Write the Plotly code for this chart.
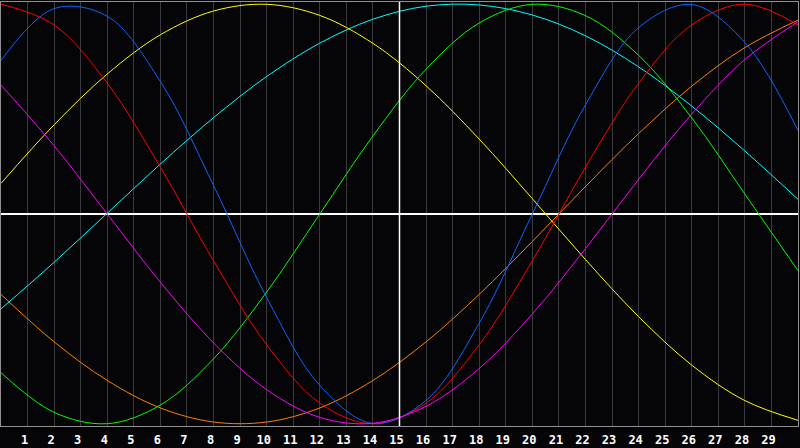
import plotly.graph_objects as go

# days sampled every 2 days across the 30-day window
days = [0, 2, 4, 6, 8, 10, 12, 14, 16, 18, 20, 22, 24, 26, 28, 30]

red = [1.0, 0.901, 0.623, 0.223, -0.223, -0.623, -0.901, -1.0,
       -0.901, -0.623, -0.223, 0.223, 0.623, 0.901, 1.0, 0.901]
blue = [0.731, 0.979, 0.942, 0.631, 0.136, -0.398, -0.817, -0.998,
        -0.888, -0.520, 0.0, 0.520, 0.888, 0.998, 0.817, 0.398]
yellow = [0.146, 0.425, 0.667, 0.854, 0.967, 0.999, 0.946, 0.813,
          0.611, 0.357, 0.073, -0.217, -0.489, -0.720, -0.889, -0.983]
green = [-0.756, -0.945, -0.999, -0.910, -0.690, -0.372, 0.0, 0.372,
         0.690, 0.910, 0.999, 0.945, 0.756, 0.458, 0.095, -0.270]
cyan = [-0.452, -0.230, 0.004, 0.238, 0.459, 0.655, 0.814, 0.928,
        0.990, 0.996, 0.948, 0.849, 0.701, 0.514, 0.300, 0.070]
magenta = [0.614, 0.325, 0.0, -0.325, -0.614, -0.837, -0.969, -0.997,
           -0.916, -0.736, -0.476, -0.165, 0.165, 0.476, 0.736, 0.916]
orange = [-0.383, -0.609, -0.793, -0.924, -0.991, -0.991, -0.924, -0.793,
          -0.609, -0.383, -0.131, 0.131, 0.383, 0.609, 0.793, 0.924]

tick_days = list(range(1, 30))
tick_labels = [str(d) for d in tick_days]
TODAY = 15

series = [
    (orange, "#ff8000"),
    (cyan, "#00ffff"),
    (yellow, "#ffff00"),
    (green, "#00ff00"),
    (red, "#ff0000"),
    (blue, "#0a64ff"),
    (magenta, "#ff00ff"),
]

fig = go.Figure()
for vals, col in series:
    fig.add_trace(go.Scatter(x=days, y=vals, mode="lines",
                             line=dict(color=col, width=1, shape="spline", smoothing=1.0),
                             hoverinfo="skip"))

# today marker
fig.add_vline(x=TODAY, line=dict(color="#ffffff", width=1.5))

fig.update_layout(
    width=800, height=448,
    margin=dict(l=1, r=1, t=1, b=20),
    paper_bgcolor="#050508",
    plot_bgcolor="#050508",
    showlegend=False,
)
fig.update_xaxes(
    range=[0, 30], tickvals=tick_days, ticktext=tick_labels,
    showgrid=True, gridcolor="#3a3a3e", gridwidth=1,
    zeroline=False, ticks="", ticklabelshift=-3, ticklabelstandoff=3,
    tickfont=dict(family="DejaVu Sans Mono", size=12, color="#ffffff", weight="bold"),
    showline=True, linecolor="#909090", linewidth=1, mirror=True,
)
fig.update_yaxes(
    range=[-1.01, 1.01], showgrid=False, showticklabels=False,
    zeroline=True, zerolinecolor="#ffffff", zerolinewidth=1.5,
    showline=True, linecolor="#909090", linewidth=1, mirror=True,
)

# drop the page's default body margin so the figure fills the window
fig.write_html("out.html", config={"displayModeBar": False},
               post_script="document.body.style.margin='0';document.body.style.overflow='hidden';")
